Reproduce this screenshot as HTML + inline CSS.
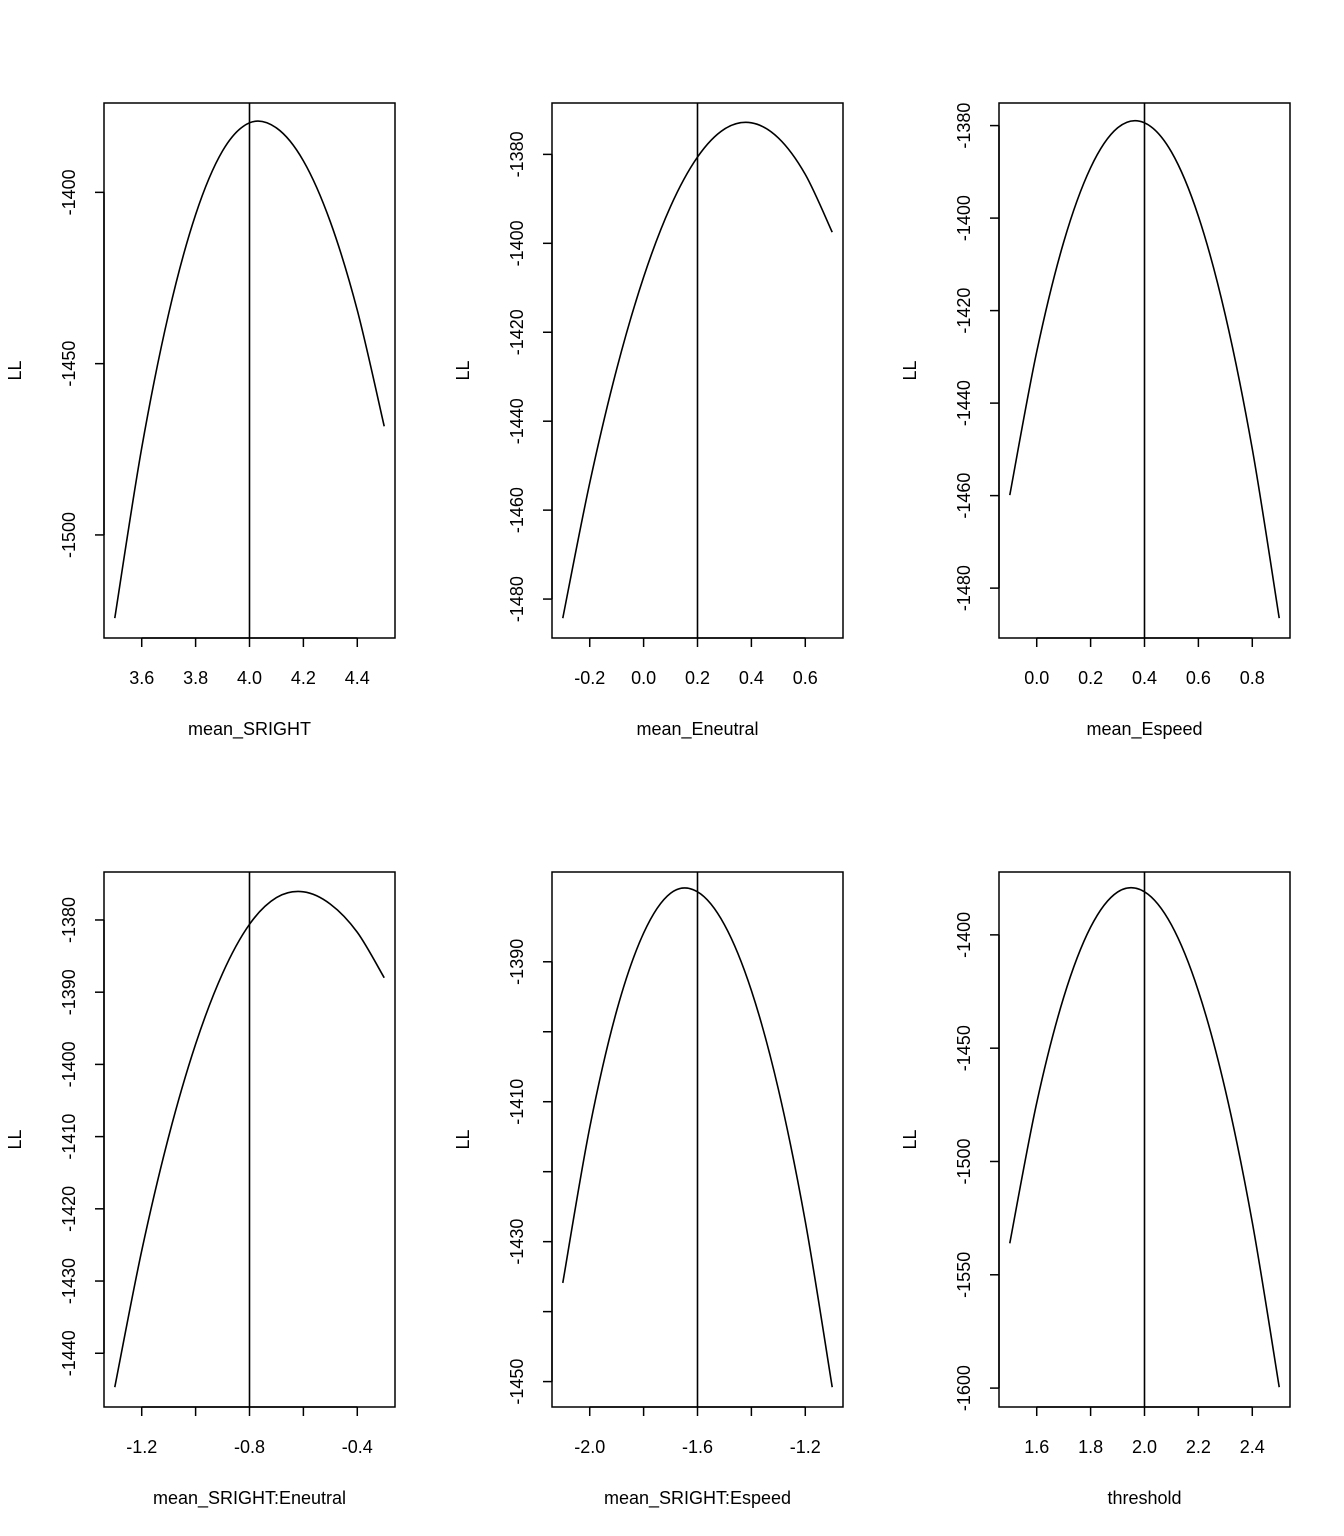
<!DOCTYPE html>
<html><head><meta charset="utf-8">
<style>
html,body{margin:0;padding:0;background:#fff;}
svg{display:block;font-family:"Liberation Sans",Arial,sans-serif;}
</style></head>
<body>
<svg id="chart" width="1344" height="1536" viewBox="0 0 1344 1536" xmlns="http://www.w3.org/2000/svg"></svg>
<script>
// Data for each panel
const xLabels = ["mean_SRIGHT","mean_Eneutral","mean_Espeed","mean_SRIGHT:Eneutral","mean_SRIGHT:Espeed","threshold"];
const xStarts = [3.5,-0.3,-0.1,-1.3,-2.1,1.5];
const xStep = 0.1;
const vlines = [4.0,0.2,0.4,-0.8,-1.6,2.0];
const ll1 = [-1524.3,-1474.6,-1435.4,-1406.5,-1387.9,-1379.7,-1381.2,-1390.8,-1408.6,-1434.4,-1468.3];
const ll2 = [-1484.3,-1453.9,-1428.3,-1407.6,-1391.7,-1380.6,-1374.3,-1372.9,-1376.3,-1384.5,-1397.5];
const ll3 = [-1459.9,-1428.9,-1405.2,-1389.1,-1380.5,-1379.4,-1385.7,-1399.6,-1421.0,-1449.9,-1486.5];
const ll4 = [-1444.7,-1425.8,-1410.0,-1397.2,-1387.4,-1380.6,-1376.9,-1376.1,-1377.8,-1381.7,-1388.0];
const ll5 = [-1435.9,-1413.7,-1397.0,-1385.9,-1380.2,-1380.0,-1384.7,-1394.1,-1408.2,-1427.1,-1450.8];
const ll6 = [-1536.1,-1474.1,-1427.6,-1396.6,-1381.1,-1381.0,-1395.6,-1424.8,-1468.5,-1526.8,-1599.6];
const xTicks1 = [3.6,3.8,4.0,4.2,4.4];
const xTicks2 = [-0.2,0.0,0.2,0.4,0.6];
const xTicks3 = [0.0,0.2,0.4,0.6,0.8];
const xTicks4 = [-1.2,-1.0,-0.8,-0.6,-0.4];
const xTicks5 = [-2.0,-1.8,-1.6,-1.4,-1.2];
const xTicks6 = [1.6,1.8,2.0,2.2,2.4];
const xTickLabels4 = ["-1.2","","-0.8","","-0.4"];
const xTickLabels5 = ["-2.0","","-1.6","","-1.2"];
const yTicks1 = [-1400,-1450,-1500];
const yTicks2 = [-1380,-1400,-1420,-1440,-1460,-1480];
const yTicks3 = [-1380,-1400,-1420,-1440,-1460,-1480];
const yTicks4 = [-1380,-1390,-1400,-1410,-1420,-1430,-1440];
const yTicks5 = [-1390,-1400,-1410,-1420,-1430,-1440,-1450];
const yTickLabels5 = ["-1390","","-1410","","-1430","","-1450"];
const yTicks6 = [-1400,-1450,-1500,-1550,-1600];

const series = [ll1,ll2,ll3,ll4,ll5,ll6];
const xTicksAll = [xTicks1,xTicks2,xTicks3,xTicks4,xTicks5,xTicks6];
const xTickLabAll = [null,null,null,xTickLabels4,xTickLabels5,null];
const yTicksAll = [yTicks1,yTicks2,yTicks3,yTicks4,yTicks5,yTicks6];
const yTickLabAll = [null,null,null,null,yTickLabels5,null];

const svg = document.getElementById('chart');
const NS = "http://www.w3.org/2000/svg";
function mk(tag, attrs, parent){
  const e = document.createElementNS(NS, tag);
  for (const k in attrs) e.setAttribute(k, attrs[k]);
  (parent||svg).appendChild(e);
  return e;
}
const colX = [104,552,999];
const rowY = [103,872];
const W = 291, H = 535;

for (let p = 0; p < 6; p++) {
  const bx = colX[p%3], by = rowY[Math.floor(p/3)];
  const vals = series[p];
  const xs = vals.map((v,i)=>xStarts[p]+i*xStep);
  const xmin = xs[0], xmax = xs[xs.length-1];
  const ymin = Math.min(...vals), ymax = Math.max(...vals);
  const xr = (xmax-xmin)*0.04, yr = (ymax-ymin)*0.04;
  const X = v => bx + (v-(xmin-xr))/((xmax+xr)-(xmin-xr))*W;
  const Y = v => by + H - (v-(ymin-yr))/((ymax+yr)-(ymin-yr))*H;

  const g = mk('g', {});
  
  

  const box = mk('rect', {x:bx, y:by, width:W, height:H, fill:'none', stroke:'#000', 'stroke-width':1.5}, g);
  
  

  // x axis
  const xt = xTicksAll[p];
  const xa = mk('g', {}, g);
  
  
  const ay = by + H;
  mk('line', {x1:X(xt[0]), x2:X(xt[xt.length-1]), y1:ay, y2:ay, stroke:'#000','stroke-width':1.5}, xa);
  xt.forEach((t,i)=>{
    mk('line', {x1:X(t), x2:X(t), y1:ay, y2:ay+9, stroke:'#000','stroke-width':1.5}, xa);
    const lab = xTickLabAll[p] ? xTickLabAll[p][i] : t.toFixed(1);
    if (lab) {
      const tx = mk('text', {x:X(t), y:ay+46, 'text-anchor':'middle', 'font-size':18}, xa);
      tx.textContent = lab;
      
      
    }
  });
  const xtitle = mk('text', {x:bx+W/2, y:ay+97, 'text-anchor':'middle', 'font-size':18}, g);
  xtitle.textContent = xLabels[p];
  
  

  // y axis
  const yt = yTicksAll[p];
  const ya = mk('g', {}, g);
  
  
  mk('line', {x1:bx, x2:bx, y1:Y(yt[0]), y2:Y(yt[yt.length-1]), stroke:'#000','stroke-width':1.5}, ya);
  yt.forEach((t,i)=>{
    mk('line', {x1:bx-9, x2:bx, y1:Y(t), y2:Y(t), stroke:'#000','stroke-width':1.5}, ya);
    const lab = yTickLabAll[p] ? yTickLabAll[p][i] : String(t);
    if (lab) {
      const tx = mk('text', {x:bx-29, y:Y(t), 'text-anchor':'middle', 'font-size':18, transform:`rotate(-90 ${bx-29} ${Y(t)})`}, ya);
      tx.textContent = lab;
      
      
    }
  });
  const ytx = bx-83, yty = by+H/2;
  const ytitle = mk('text', {x:ytx, y:yty, 'text-anchor':'middle', 'font-size':18, transform:`rotate(-90 ${ytx} ${yty})`}, g);
  ytitle.textContent = 'LL';
  
  

  // curve (Catmull-Rom through points)
  const pts = xs.map((x,i)=>[X(x), Y(vals[i])]);
  let d = `M${pts[0][0]},${pts[0][1]}`;
  for (let i=0;i<pts.length-1;i++){
    const p0 = pts[Math.max(0,i-1)], p1 = pts[i], p2 = pts[i+1], p3 = pts[Math.min(pts.length-1,i+2)];
    const c1 = [p1[0]+(p2[0]-p0[0])/6, p1[1]+(p2[1]-p0[1])/6];
    const c2 = [p2[0]-(p3[0]-p1[0])/6, p2[1]-(p3[1]-p1[1])/6];
    d += ` C${c1[0]},${c1[1]} ${c2[0]},${c2[1]} ${p2[0]},${p2[1]}`;
  }
  const curve = mk('path', {d:d, fill:'none', stroke:'#000', 'stroke-width':1.6}, g);
  
  

  const vl = mk('line', {x1:X(vlines[p]), x2:X(vlines[p]), y1:by, y2:by+H, stroke:'#000','stroke-width':1.6}, g);
  
  
}
</script>
</body></html>
